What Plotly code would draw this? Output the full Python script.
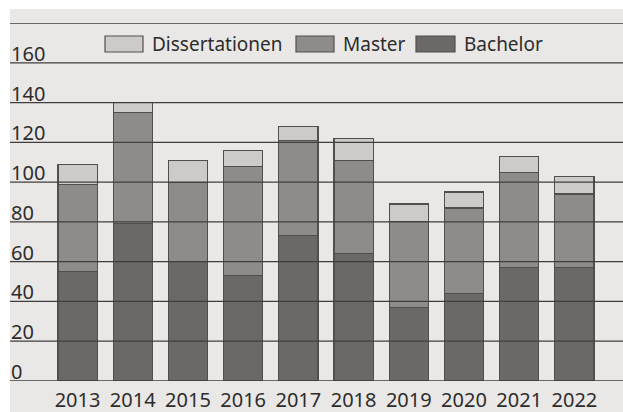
import plotly.graph_objects as go

years = ["2013", "2014", "2015", "2016", "2017", "2018", "2019", "2020", "2021", "2022"]
bachelor = [55, 79, 60, 53, 73, 64, 37, 44, 57, 57]
master = [44, 56, 40, 55, 48, 47, 43, 43, 48, 37]
dissertationen = [10, 5, 11, 8, 7, 11, 9, 8, 8, 9]
y_ticks = [0, 20, 40, 60, 80, 100, 120, 140, 160]
grid_lines = [0, 20, 40, 60, 80, 100, 120, 140, 160, 180]

series = [("Bachelor", bachelor, "#6b6867"),
          ("Master", master, "#8e8b8a"),
          ("Dissertationen", dissertationen, "#cdcbca")]

FONT = "Noto Sans"
TXT = "#2e2c2b"
EDGE = "#514f4e"

# plot area in pixels: x 10..623, y 23..381
PW, PH, PL, PT = 613.0, 358.0, 10.0, 23.0
def px(x):
    return (x - PL) / PW
def py(y):
    return (PT + PH - y) / PH

fig = go.Figure()
for name, vals, col in series:
    fig.add_trace(go.Bar(name=name, x=years, y=vals, showlegend=False,
                         marker=dict(color=col, line=dict(color=EDGE, width=1.2))))

shapes = [dict(type="rect", xref="paper", yref="paper", x0=0, x1=1.01, y0=-0.1, y1=py(9),
               fillcolor="#e9e8e7", line=dict(width=0), layer="below")]
for g in grid_lines:
    shapes.append(dict(type="line", xref="paper", yref="y", x0=0, x1=1, y0=g, y1=g,
                       line=dict(color="#403e3d", width=1.3), layer="above"))

annotations = []
for t in y_ticks:
    annotations.append(dict(xref="paper", yref="y", x=0, y=t, text=str(t), showarrow=False,
                            xanchor="left", yanchor="bottom", yshift=-6, xshift=-1,
                            font=dict(family=FONT, size=20, color=TXT)))

# manual legend (order: Dissertationen, Master, Bachelor)
legend_items = [("Dissertationen", series[2][2], 105, 143),
                ("Master", series[1][2], 296, 334),
                ("Bachelor", series[0][2], 416, 455)]
for name, col, sx0, sx1 in legend_items:
    shapes.append(dict(type="rect", xref="paper", yref="paper",
                       x0=px(sx0), x1=px(sx1), y0=py(52), y1=py(36),
                       fillcolor=col, line=dict(color=EDGE, width=1.2), layer="above"))
    annotations.append(dict(xref="paper", yref="paper", x=px(sx1 + 7), y=py(44),
                            text=name, showarrow=False, xanchor="left", yanchor="middle",
                            font=dict(family=FONT, size=19, color=TXT)))

fig.update_layout(
    width=623, height=412,
    margin=dict(l=10, r=0, t=23, b=31, autoexpand=False),
    barmode="stack", bargap=0.29,
    paper_bgcolor="white", plot_bgcolor="rgba(0,0,0,0)",
    font=dict(family=FONT, size=20, color=TXT),
    showlegend=False,
    xaxis=dict(type="category", range=[-1.223, 9.88], showgrid=False, showline=False,
               ticks="", tickfont=dict(size=20, color=TXT), fixedrange=True,
               automargin=False, ticklabelstandoff=5),
    yaxis=dict(range=[0, 180], showgrid=False, showticklabels=False, zeroline=False,
               showline=False, ticks="", fixedrange=True, automargin=False),
    shapes=shapes, annotations=annotations,
)

fig.write_html("out.html", config={"displayModeBar": False},
               post_script="document.body.style.margin='0px';")
